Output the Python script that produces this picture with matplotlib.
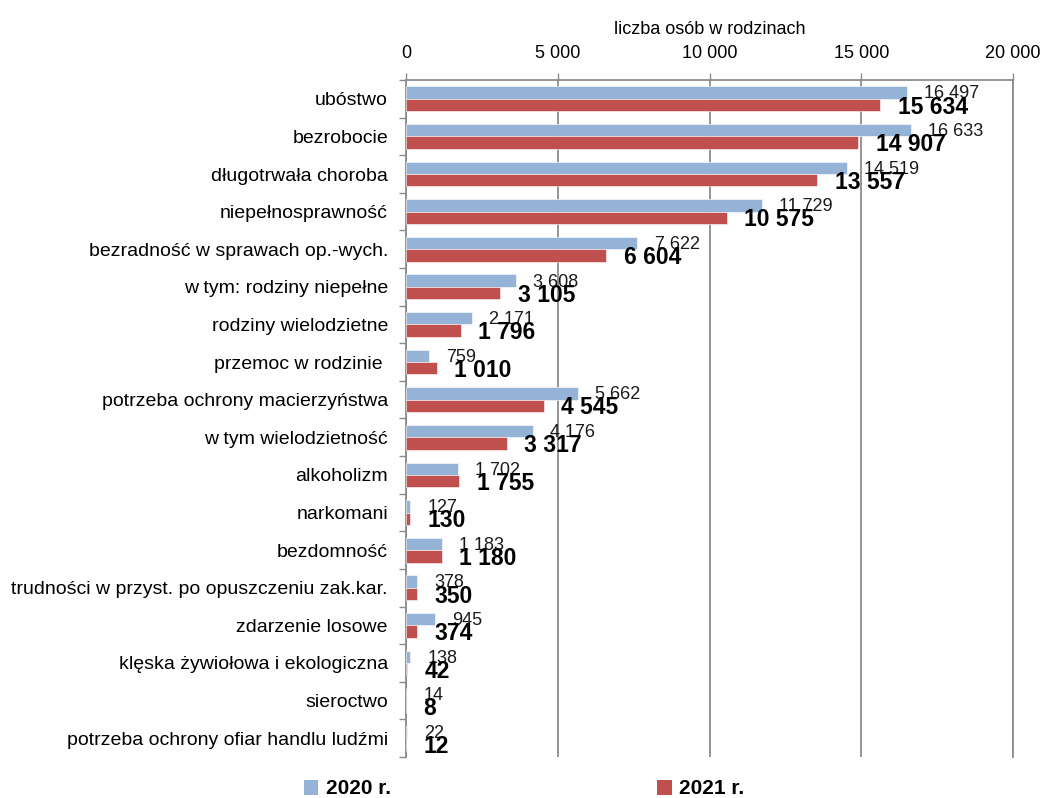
import matplotlib
matplotlib.use("Agg")
import matplotlib.pyplot as plt
from matplotlib.patches import Patch
from matplotlib.ticker import FixedLocator, FuncFormatter
import numpy as np

plt.rcParams['font.family'] = ['Liberation Sans', 'DejaVu Sans']

categories = [
    "ubóstwo",
    "bezrobocie",
    "długotrwała choroba",
    "niepełnosprawność",
    "bezradność w sprawach op.-wych.",
    "w tym: rodziny niepełne",
    "rodziny wielodzietne",
    "przemoc w rodzinie ",
    "potrzeba ochrony macierzyństwa",
    "w tym wielodzietność",
    "alkoholizm",
    "narkomani",
    "bezdomność",
    "trudności w przyst. po opuszczeniu zak.kar.",
    "zdarzenie losowe",
    "klęska żywiołowa i ekologiczna",
    "sieroctwo",
    "potrzeba ochrony ofiar handlu ludźmi",
]
values_2020 = [16497, 16633, 14519, 11729, 7622, 3608, 2171, 759, 5662, 4176,
               1702, 127, 1183, 378, 945, 138, 14, 22]
values_2021 = [15634, 14907, 13557, 10575, 6604, 3105, 1796, 1010, 4545, 3317,
               1755, 130, 1180, 350, 374, 42, 8, 12]
series_labels = ["2020 r.", "2021 r."]
x_ticks = [0, 5000, 10000, 15000, 20000]
x_title = "liczba osób w rodzinach"

c2020 = "#95B3D7"
c2021 = "#C0504D"
grid_c = "#8C8C8C"


def fmt(v):
    return f"{int(v):,}".replace(",", " ")


fig = plt.figure(figsize=(10.40, 7.98), dpi=100)
ax = fig.add_axes([406 / 1040, 1 - 757 / 798, (1013 - 406) / 1040, (757 - 80) / 798])

y = np.arange(len(categories))
h = 0.33
b1 = ax.barh(y - h / 2, values_2020, height=h, color=c2020, edgecolor="white",
             linewidth=0.4, zorder=3)
b2 = ax.barh(y + h / 2, values_2021, height=h, color=c2021, edgecolor="white",
             linewidth=0.4, zorder=3)

for yi, v in zip(y, values_2020):
    ax.annotate(fmt(v), xy=(v, yi - h / 2), xytext=(12.5, -1), textcoords="offset points",
                ha="left", va="center", fontsize=13, color="#1a1a1a", zorder=5)
for yi, v in zip(y, values_2021):
    ax.annotate(fmt(v), xy=(v, yi + h / 2), xytext=(12.5, -1.5), textcoords="offset points",
                ha="left", va="center", fontsize=16.5, fontweight="bold", color="black",
                zorder=6)

ax.set_xlim(0, 20000)
ax.set_ylim(len(categories) - 0.5, -0.5)

ax.xaxis.tick_top()
ax.xaxis.set_label_position("top")
ax.xaxis.set_major_locator(FixedLocator(x_ticks))
ax.xaxis.set_major_formatter(FuncFormatter(lambda v, p: fmt(v)))
ax.tick_params(axis="x", direction="out", length=5, width=1, color=grid_c,
               labelsize=13, pad=8)
ax.set_xlabel(x_title, fontsize=13, labelpad=8)

ax.set_yticks(y)
ax.set_yticklabels(categories, fontsize=14)
ax.set_yticks(np.arange(-0.5, len(categories) + 0.5, 1), minor=True)
ax.tick_params(axis="y", which="major", length=0, pad=13)
ax.tick_params(axis="y", which="minor", direction="out", length=5, width=1, color=grid_c)

ax.grid(axis="x", color=grid_c, linewidth=1.3, zorder=0)
ax.set_axisbelow(True)

for s in ["left", "top", "right"]:
    ax.spines[s].set_color(grid_c)
    ax.spines[s].set_linewidth(1.3)
ax.spines["bottom"].set_visible(False)

handles = [Patch(facecolor=c2020, edgecolor="none"), Patch(facecolor=c2021, edgecolor="none")]
fig.legend(handles, series_labels, loc="center", bbox_to_anchor=(524 / 1040, 1 - 789 / 798),
           ncol=2, frameon=False, prop={"weight": "bold", "size": 15},
           handlelength=0.7, handleheight=0.7, handletextpad=0.35, columnspacing=12.8,
           borderpad=0)

fig.savefig("out.png", dpi=100)
